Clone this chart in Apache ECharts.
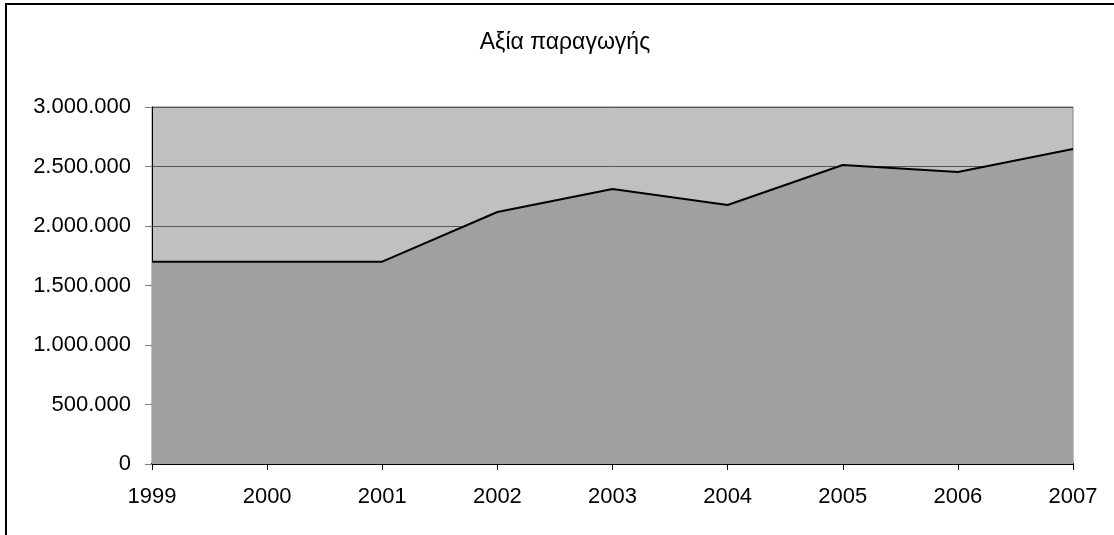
<!DOCTYPE html>
<html>
<head>
<meta charset="utf-8">
<script src="https://cdn.jsdelivr.net/npm/echarts@6/dist/echarts.min.js"></script>
<style>
  html, body { margin: 0; padding: 0; background: #fff; }
  #chart { width: 1114px; height: 535px; }
</style>
</head>
<body>
<div id="chart"></div>
<script>
// Production value per year
const years = ['1999', '2000', '2001', '2002', '2003', '2004', '2005', '2006', '2007'];
const values = [1700000, 1700000, 1700000, 2118000, 2311000, 2176000, 2513000, 2454000, 2647000];
const chartTitle = 'Αξία παραγωγής';

const fontFamily = '"Liberation Sans", Arial, sans-serif';

function formatThousands(v) {
  return String(v).replace(/\B(?=(\d{3})+(?!\d))/g, '.');
}

const chart = echarts.init(document.getElementById('chart'), null, { renderer: 'canvas' });
chart.setOption({
  backgroundColor: '#ffffff',
  animation: false,
  title: {
    text: chartTitle,
    left: 560,
    top: 26,
    textAlign: 'center',
    textStyle: { fontFamily, fontSize: 23, fontWeight: 'normal', color: '#000' }
  },
  graphic: [{
    type: 'rect',
    shape: { x: 6, y: 4, width: 1130, height: 600 },
    style: { fill: null, stroke: '#000', lineWidth: 2 },
    silent: true
  }],
  grid: {
    left: 152, right: 41, top: 107, bottom: 71,
    show: true,
    backgroundColor: '#C0C0C0',
    borderColor: '#808080',
    borderWidth: 1
  },
  xAxis: {
    type: 'category',
    data: years,
    boundaryGap: false,
    axisLine: { show: true, lineStyle: { color: '#000', width: 2 } },
    axisTick: { show: true, inside: false, length: 6, lineStyle: { color: '#000', width: 1 } },
    axisLabel: { fontFamily, fontSize: 22, color: '#000', margin: 22 },
    splitLine: { show: false }
  },
  yAxis: {
    type: 'value',
    min: 0,
    max: 3000000,
    interval: 500000,
    axisLine: { show: true, lineStyle: { color: '#000', width: 1 } },
    axisTick: { show: true, length: 7, lineStyle: { color: '#808080', width: 1 } },
    axisLabel: { fontFamily, fontSize: 22, color: '#000', margin: 21, formatter: formatThousands },
    splitLine: { show: true, lineStyle: { color: '#555', width: 1 } }
  },
  series: [{
    type: 'line',
    data: values,
    symbol: 'none',
    lineStyle: { color: '#000', width: 2 },
    areaStyle: { color: '#A0A0A0', opacity: 1 },
    z: 3
  }]
});
</script>
</body>
</html>
